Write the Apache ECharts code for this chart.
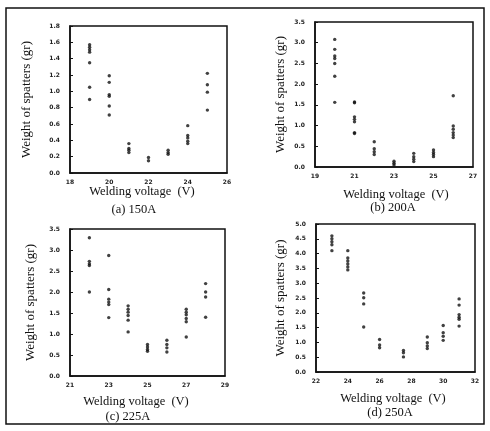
<!DOCTYPE html>
<html>
<head>
<meta charset="utf-8">
<script src="https://cdn.jsdelivr.net/npm/echarts@6/dist/echarts.min.js"></script>
<style>
  html, body { margin: 0; padding: 0; background: #fff; }
  #chart { width: 490px; height: 431px; }
</style>
</head>
<body>
<div id="chart"></div>
<script>
// (a) 150A
var voltsA = [19, 20, 21, 22, 23, 24, 25];
var weightsA = [
  [1.57, 1.54, 1.51, 1.48, 1.35, 1.05, 0.90],
  [1.19, 1.11, 0.96, 0.94, 0.82, 0.71],
  [0.36, 0.30, 0.28, 0.25],
  [0.19, 0.15],
  [0.28, 0.25, 0.23],
  [0.58, 0.46, 0.43, 0.39, 0.36],
  [1.22, 1.08, 0.99, 0.77]
];
// (b) 200A
var voltsB = [20, 21, 22, 23, 24, 25, 26];
var weightsB = [
  [3.08, 2.84, 2.68, 2.62, 2.50, 2.19, 1.56],
  [1.57, 1.55, 1.21, 1.15, 1.09, 0.83, 0.81],
  [0.61, 0.44, 0.37, 0.30],
  [0.14, 0.09, 0.05],
  [0.33, 0.25, 0.19, 0.13],
  [0.41, 0.35, 0.30, 0.25],
  [1.72, 0.99, 0.91, 0.83, 0.77, 0.71]
];
// (c) 225A
var voltsC = [22, 23, 24, 25, 26, 27, 28];
var weightsC = [
  [3.29, 2.73, 2.67, 2.63, 2.00],
  [2.87, 2.06, 1.83, 1.76, 1.70, 1.39],
  [1.67, 1.59, 1.52, 1.44, 1.33, 1.05],
  [0.75, 0.69, 0.63, 0.59],
  [0.85, 0.75, 0.67, 0.57],
  [1.59, 1.52, 1.46, 1.37, 1.29, 0.93],
  [2.20, 2.00, 1.88, 1.40]
];
// (d) 250A
var voltsD = [23, 24, 25, 26, 27.5, 29, 30, 31];
var weightsD = [
  [4.60, 4.50, 4.40, 4.30, 4.10],
  [4.10, 3.85, 3.75, 3.65, 3.55, 3.45],
  [2.67, 2.51, 2.30, 1.52],
  [1.10, 0.91, 0.82],
  [0.73, 0.65, 0.51],
  [1.18, 0.99, 0.88, 0.79],
  [1.57, 1.33, 1.21, 1.07],
  [2.47, 2.26, 1.94, 1.85, 1.78, 1.55]
];

// axis ranges / tick labels
var xRanges = [[18, 26, 2], [19, 27, 1], [21, 29, 1], [22, 32, 2]];
var yRanges = [[0, 1.8, 0.2], [0, 3.5, 0.5], [0, 3.5, 0.5], [0, 5.0, 0.5]];
var captions = ['(a) 150A', '(b) 200A', '(c) 225A', '(d) 250A'];

function toPairs(volts, weights) {
  var out = [];
  for (var i = 0; i < volts.length; i++) {
    for (var j = 0; j < weights[i].length; j++) {
      out.push([volts[i], weights[i][j]]);
    }
  }
  return out;
}
var allData = [toPairs(voltsA, weightsA), toPairs(voltsB, weightsB),
               toPairs(voltsC, weightsC), toPairs(voltsD, weightsD)];

var grids = [
  { left: 70, top: 26, width: 157, height: 147 },
  { left: 315, top: 22, width: 158, height: 145 },
  { left: 70, top: 229, width: 155, height: 147 },
  { left: 316, top: 224, width: 159, height: 148 }
];
var yNameGap = [37, 28, 33, 29];
var xNamePos = [[142, 192], [396, 195], [136, 402], [393, 399]];
var capPos = [[134, 210], [393, 208], [128, 417], [390, 413]];

var serif = '"Liberation Serif", "DejaVu Serif", serif';
var tickFont = { fontSize: 6, fontWeight: 'bold', color: '#222', fontFamily: 'DejaVu Sans' };

var xAxes = [], yAxes = [], series = [], graphics = [];
for (var k = 0; k < 4; k++) {
  grids[k].show = true;
  grids[k].borderColor = '#111';
  grids[k].borderWidth = 1.5;
  var xr = xRanges[k], yr = yRanges[k];
  xAxes.push({
    type: 'value', gridIndex: k, min: xr[0], max: xr[1], interval: xr[2],
    axisLine: { lineStyle: { color: '#111', width: 1.5 } },
    axisTick: { show: false },
    splitLine: { show: false },
    axisLabel: Object.assign({
      margin: 6,
      formatter: (function (step) {
        return function (v) { return (step === 1 && v % 2 === 0) ? '' : String(v); };
      })(xr[2])
    }, tickFont)
  });
  yAxes.push({
    type: 'value', gridIndex: k, min: yr[0], max: yr[1], interval: yr[2],
    name: 'Weight of spatters (gr)', nameLocation: 'middle', nameGap: yNameGap[k],
    nameTextStyle: { fontFamily: serif, fontSize: 13, color: '#111' },
    axisLine: { lineStyle: { color: '#111', width: 1.5 } },
    axisTick: { show: true, inside: true, length: 3, lineStyle: { color: '#111' } },
    splitLine: { show: false },
    axisLabel: Object.assign({
      margin: 10,
      formatter: function (v) { return v.toFixed(1); }
    }, tickFont)
  });
  series.push({
    type: 'scatter', xAxisIndex: k, yAxisIndex: k,
    symbol: 'circle', symbolSize: 3.4,
    itemStyle: { color: '#111' },
    data: allData[k]
  });
  graphics.push({
    type: 'text', x: xNamePos[k][0], y: xNamePos[k][1],
    style: { text: 'Welding voltage  (V)', font: '12.5px ' + serif, fill: '#111',
             align: 'center', verticalAlign: 'middle' }
  });
  graphics.push({
    type: 'text', x: capPos[k][0], y: capPos[k][1],
    style: { text: captions[k], font: '12.5px ' + serif, fill: '#111',
             align: 'center', verticalAlign: 'middle' }
  });
}
// scanned page frame
graphics.push({
  type: 'rect', shape: { x: 6, y: 8, width: 478, height: 416 },
  style: { fill: 'none', stroke: '#111', lineWidth: 1.5 }, z: -1
});

var chart = echarts.init(document.getElementById('chart'));
chart.setOption({
  animation: false,
  backgroundColor: '#fff',
  grid: grids,
  xAxis: xAxes,
  yAxis: yAxes,
  series: series,
  graphic: graphics
});
</script>
</body>
</html>
